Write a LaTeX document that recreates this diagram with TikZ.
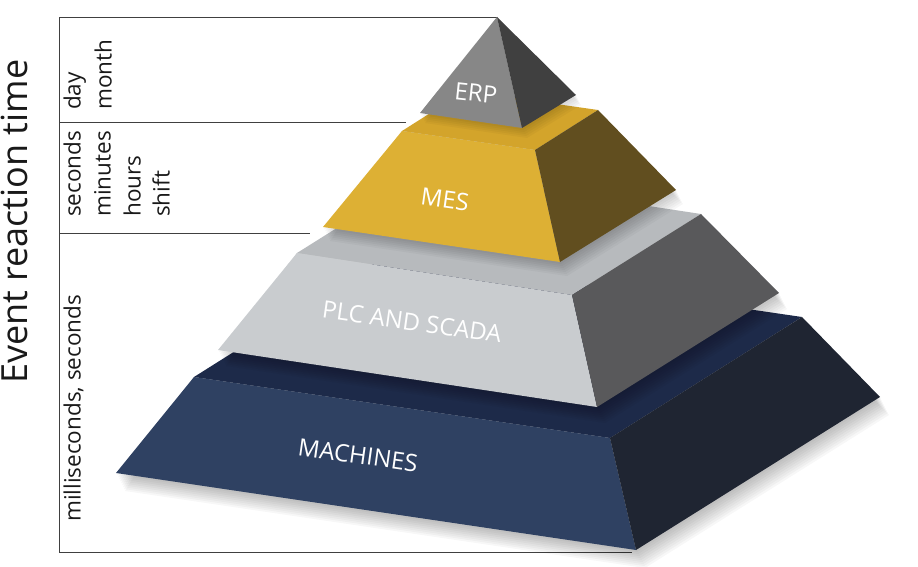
\documentclass[tikz,border=0pt]{standalone}
\usepackage{fontspec}
\setmainfont{Open Sans}
\usepackage{xcolor}

% colours of the tiers
\definecolor{erpleft}{HTML}{878787}
\definecolor{erpright}{HTML}{404040}
\definecolor{mesfront}{HTML}{DDB034}
\definecolor{mestop}{HTML}{D3A42B}
\definecolor{mesright}{HTML}{614E1F}
\definecolor{plcfront}{HTML}{C9CCCF}
\definecolor{plctop}{HTML}{B7BABD}
\definecolor{plcright}{HTML}{59595B}
\definecolor{macfront}{HTML}{2F4162}
\definecolor{mactop}{HTML}{1D2A49}
\definecolor{macright}{HTML}{1F2532}

\begin{document}
\begin{tikzpicture}[x=1pt,y=-1pt,
    tiertext/.style={text=white,font=\fontsize{24}{28}\selectfont,rotate=-8},
    timetext/.style={rotate=90,anchor=mid west,inner sep=0pt,text=black!90,font=\fontsize{22.5}{26}\selectfont},
    bracket/.style={draw=black!75,line width=0.9pt},
    softshadow/.style={fill=black,opacity=0.03}]
  \useasboundingbox (0,0) rectangle (918,567);

  % corners
  \coordinate (maL) at (194,377); \coordinate (maF) at (610,438);
  \coordinate (maR) at (802,317); \coordinate (maB) at (386,256);
  \coordinate (maBL) at (116,473); \coordinate (maBF) at (636,550);
  \coordinate (maBR) at (880,397);

  \coordinate (plL) at (297,253); \coordinate (plF) at (572,295);
  \coordinate (plR) at (701,214); \coordinate (plB) at (426,172);
  \coordinate (plBL) at (218,350); \coordinate (plBF) at (597,407);
  \coordinate (plBR) at (779,293);

  \coordinate (meL) at (402,131); \coordinate (meF) at (535,150);
  \coordinate (meR) at (598,110); \coordinate (meB) at (465,91);
  \coordinate (meBL) at (323,227); \coordinate (meBF) at (560,262);
  \coordinate (meBR) at (676,190);

  \coordinate (erT) at (497,17); \coordinate (erL) at (420,113);
  \coordinate (erF) at (522,128); \coordinate (erR) at (576,95);

  % bracket
  \coordinate (brTop) at (59,17);
  \coordinate (brBot) at (59,552);
  \coordinate (brEnd) at (632,552);
  \coordinate (brA) at (59,122); \coordinate (brAe) at (406,122);
  \coordinate (brB) at (59,233); \coordinate (brBe) at (310,233);
  \draw[bracket] (erT) -- (brTop) -- (brBot) -- (brEnd);
  \draw[bracket] (brA) -- (brAe);
  \draw[bracket] (brB) -- (brBe);

  % MACHINES
  \foreach \s in {2,4,...,18}
    \fill[softshadow] ([shift={(0.5*\s,\s)}]maBL) -- ([shift={(0.5*\s,\s)}]maBF)
      -- ([shift={(0.5*\s,\s)}]maBR) -- ([shift={(0.5*\s,\s)}]maR) -- (maL) -- cycle;
  \fill[mactop] (maL) -- (maB) -- (maR) -- (maF) -- cycle;
  \fill[macfront] (maL) -- (maF) -- (maBF) -- (maBL) -- cycle;
  \fill[macright] (maF) -- (maR) -- (maBR) -- (maBF) -- cycle;
  \node[tiertext] (machines) at (358,455) {MACHINES};

  % PLC and SCADA
  \foreach \s in {2,4,...,16}
    \fill[softshadow] ([shift={(0.5*\s,\s)}]plBL) -- ([shift={(0.5*\s,\s)}]plBF)
      -- ([shift={(0.5*\s,\s)}]plBR) -- ([shift={(0.5*\s,\s)}]plR) -- (plL) -- cycle;
  \fill[plctop] (plL) -- (plB) -- (plR) -- (plF) -- cycle;
  \fill[plcfront] (plL) -- (plF) -- (plBF) -- (plBL) -- cycle;
  \fill[plcright] (plF) -- (plR) -- (plBR) -- (plBF) -- cycle;
  \node[tiertext] (plc) at (412,322) {PLC AND SCADA};

  % MES
  \foreach \s in {2,4,...,14}
    \fill[softshadow] ([shift={(0.5*\s,\s)}]meBL) -- ([shift={(0.5*\s,\s)}]meBF)
      -- ([shift={(0.5*\s,\s)}]meBR) -- ([shift={(0.5*\s,\s)}]meR) -- (meL) -- cycle;
  \fill[mestop] (meL) -- (meB) -- (meR) -- (meF) -- cycle;
  \fill[mesfront] (meL) -- (meF) -- (meBF) -- (meBL) -- cycle;
  \fill[mesright] (meF) -- (meR) -- (meBR) -- (meBF) -- cycle;
  \node[tiertext] (mes) at (445,199) {MES};

  % ERP
  \foreach \s in {2,4,...,10}
    \fill[softshadow] ([shift={(0.5*\s,\s)}]erL) -- ([shift={(0.5*\s,\s)}]erF)
      -- ([shift={(0.5*\s,\s)}]erR) -- (erT) -- cycle;
  \fill[erpleft] (erT) -- (erF) -- (erL) -- cycle;
  \fill[erpright] (erT) -- (erR) -- (erF) -- cycle;
  \node[tiertext,rotate=2] (erp) at (476,93) {ERP};

  % reaction times
  \node[timetext,font=\fontsize{36}{40}\selectfont] (axis) at (24.5,384) {Event reaction time};
  \node[timetext] (day) at (78,110) {day};
  \node[timetext] (month) at (109,110) {month};
  \node[timetext] (sec) at (78,217) {seconds};
  \node[timetext] (min) at (108,217) {minutes};
  \node[timetext] (hours) at (138,217) {hours};
  \node[timetext] (shift) at (167,217) {shift};
  \node[timetext] (ms) at (78,522) {milliseconds, seconds};
\end{tikzpicture}
\end{document}
